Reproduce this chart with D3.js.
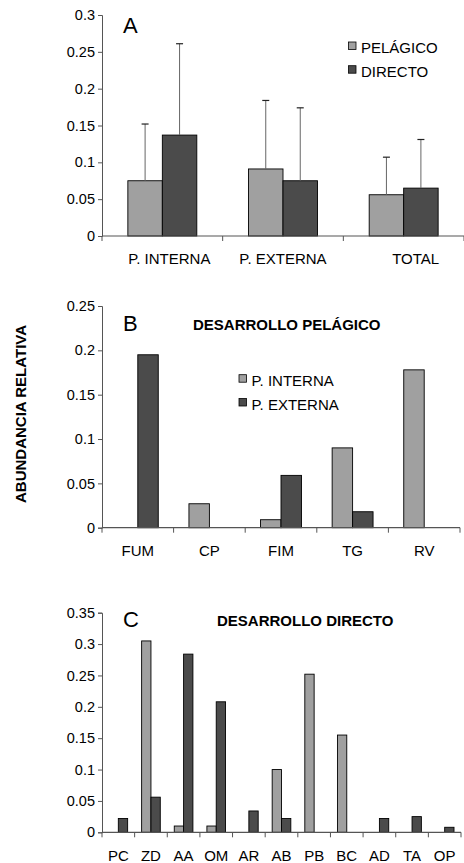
<!DOCTYPE html>
<html>
<head>
<meta charset="utf-8">
<script src="https://cdn.jsdelivr.net/npm/d3@7"></script>
<style>
  body { margin: 0; background: #fff; }
  svg text { font-family: "Liberation Sans", Arial, sans-serif; fill: #000; }
</style>
</head>
<body>
<svg id="chart" width="464" height="863"></svg>
<script>
// panel A: mean relative abundance with upper error bars
const catsA = ["P. INTERNA", "P. EXTERNA", "TOTAL"];
const pelagico = [0.075, 0.091, 0.056];
const directo = [0.137, 0.075, 0.065];
const errPelagico = [0.077, 0.093, 0.051];
const errDirecto = [0.124, 0.099, 0.066];
const ticksA = [0, 0.05, 0.1, 0.15, 0.2, 0.25, 0.3];

// panel B: desarrollo pelágico
const catsB = ["FUM", "CP", "FIM", "TG", "RV"];
const internaB = [0, 0.027, 0.009, 0.09, 0.178];
const externaB = [0.195, 0, 0.059, 0.018, 0];
const ticksB = [0, 0.05, 0.1, 0.15, 0.2, 0.25];

// panel C: desarrollo directo
const catsC = ["PC", "ZD", "AA", "OM", "AR", "AB", "PB", "BC", "AD", "TA", "OP"];
const internaC = [0, 0.305, 0.01, 0.01, 0, 0.1, 0.252, 0.155, 0, 0, 0];
const externaC = [0.022, 0.056, 0.284, 0.208, 0.034, 0.022, 0, 0, 0.022, 0.025, 0.008];
const ticksC = [0, 0.05, 0.1, 0.15, 0.2, 0.25, 0.3, 0.35];

const light = "#a0a0a0";
const dark = "#4b4b4b";
const axisColor = "#555";

const svg = d3.select("#chart");
const fmt = d => String(+d.toFixed(2));

function panel(opt) {
  const g = svg.append("g");
  const x = d3.scaleBand().domain(opt.cats).range(opt.xr);
  const y = d3.scaleLinear().domain([0, d3.max(opt.ticks)]).range(opt.yr);
  const bw = x.bandwidth() / 3.5;
  const off = (x.bandwidth() - 2 * bw) / 2;

  // bars
  opt.series.forEach((s, si) => {
    g.selectAll(null)
      .data(s.values.map((v, i) => ({ cat: opt.cats[i], v, err: s.err ? s.err[i] : null })))
      .enter()
      .filter(d => d.v > 0)
      .append("rect")
      .attr("x", d => x(d.cat) + off + si * bw)
      .attr("y", d => y(d.v))
      .attr("width", bw)
      .attr("height", d => y(0) - y(d.v))
      .attr("fill", s.color)
      .attr("stroke", "#000")
      .attr("stroke-width", 0.9);

    if (s.err) {
      const eb = g.selectAll(null)
        .data(s.values.map((v, i) => ({ cat: opt.cats[i], v, e: s.err[i] })))
        .enter().append("g");
      eb.append("line")
        .attr("x1", d => x(d.cat) + off + si * bw + bw / 2)
        .attr("x2", d => x(d.cat) + off + si * bw + bw / 2)
        .attr("y1", d => y(d.v))
        .attr("y2", d => y(d.v + d.e))
        .attr("stroke", "#666").attr("stroke-width", 1);
      eb.append("line")
        .attr("x1", d => x(d.cat) + off + si * bw + bw / 2 - 3.5)
        .attr("x2", d => x(d.cat) + off + si * bw + bw / 2 + 3.5)
        .attr("y1", d => y(d.v + d.e))
        .attr("y2", d => y(d.v + d.e))
        .attr("stroke", "#222").attr("stroke-width", 1.2);
    }
  });

  // y axis
  const ya = g.append("g")
    .attr("transform", `translate(${opt.xr[0]},0)`)
    .call(d3.axisLeft(y).tickValues(opt.ticks).tickFormat(fmt).tickSize(4).tickPadding(3));
  ya.select(".domain").attr("stroke", axisColor);
  ya.selectAll(".tick line").attr("stroke", axisColor);
  ya.selectAll(".tick text")
    .style("font-size", "14.5px")
    .style("font-family", "'Liberation Sans', Arial, sans-serif")
    .attr("fill", "#111");

  // x axis: line, boundary ticks, centred labels
  const y0 = y(0);
  g.append("line")
    .attr("x1", opt.xr[0]).attr("x2", opt.xr[1])
    .attr("y1", y0).attr("y2", y0)
    .attr("stroke", axisColor).attr("stroke-width", 1.2);
  const bounds = opt.cats.map(c => x(c)).concat([opt.xr[1]]);
  g.selectAll(null).data(bounds).enter().append("line")
    .attr("x1", d => d).attr("x2", d => d)
    .attr("y1", y0).attr("y2", y0 + 5)
    .attr("stroke", axisColor);
  g.selectAll(null).data(opt.cats).enter().append("text")
    .attr("x", (d, i) => x(d) + x.bandwidth() / 2 + (opt.labelDx ? opt.labelDx[i] : 0))
    .attr("y", y0 + opt.labelGap)
    .attr("text-anchor", "middle")
    .style("font-size", "15px")
    .text(d => d);

  // panel letter and title
  g.append("text").attr("x", 123).attr("y", opt.letterY)
    .style("font-size", "22px").text(opt.letter);
  if (opt.title) {
    g.append("text").attr("x", opt.titleX).attr("y", opt.letterY - 1)
      .style("font-size", "15px").style("font-weight", "bold").text(opt.title);
  }

  // legend
  if (opt.legend) {
    opt.series.forEach((s, i) => {
      const ly = opt.legend.y + i * opt.legend.step;
      g.append("rect")
        .attr("x", opt.legend.x).attr("y", ly - 11)
        .attr("width", 7.5).attr("height", 7.5)
        .attr("fill", s.color).attr("stroke", "#000").attr("stroke-width", 0.8);
      g.append("text").attr("x", opt.legend.x + 12.5).attr("y", ly)
        .style("font-size", "15px").text(s.name);
    });
  }
}

panel({
  cats: catsA, xr: [102, 464], yr: [236, 15], ticks: ticksA,
  series: [
    { name: "PELÁGICO", values: pelagico, err: errPelagico, color: light },
    { name: "DIRECTO", values: directo, err: errDirecto, color: dark }
  ],
  labelGap: 28, labelDx: [7, 0, 12],
  letter: "A", letterY: 33,
  legend: { x: 348.5, y: 53, step: 23.7 }
});

panel({
  cats: catsB, xr: [102, 460], yr: [527.7, 306], ticks: ticksB,
  series: [
    { name: "P. INTERNA", values: internaB, color: light },
    { name: "P. EXTERNA", values: externaB, color: dark }
  ],
  labelGap: 28,
  letter: "B", letterY: 331, title: "DESARROLLO PELÁGICO", titleX: 193,
  legend: { x: 239, y: 385.7, step: 23.8 }
});

panel({
  cats: catsC, xr: [102, 461], yr: [832.3, 612.7], ticks: ticksC,
  series: [
    { name: "P. INTERNA", values: internaC, color: light },
    { name: "P. EXTERNA", values: externaC, color: dark }
  ],
  labelGap: 28.7,
  letter: "C", letterY: 627, title: "DESARROLLO DIRECTO", titleX: 217
});

// shared y title
svg.append("text")
  .attr("transform", "translate(26,414) rotate(-90)")
  .attr("text-anchor", "middle")
  .style("font-size", "15px").style("font-weight", "bold")
  .text("ABUNDANCIA RELATIVA");
</script>
</body>
</html>
